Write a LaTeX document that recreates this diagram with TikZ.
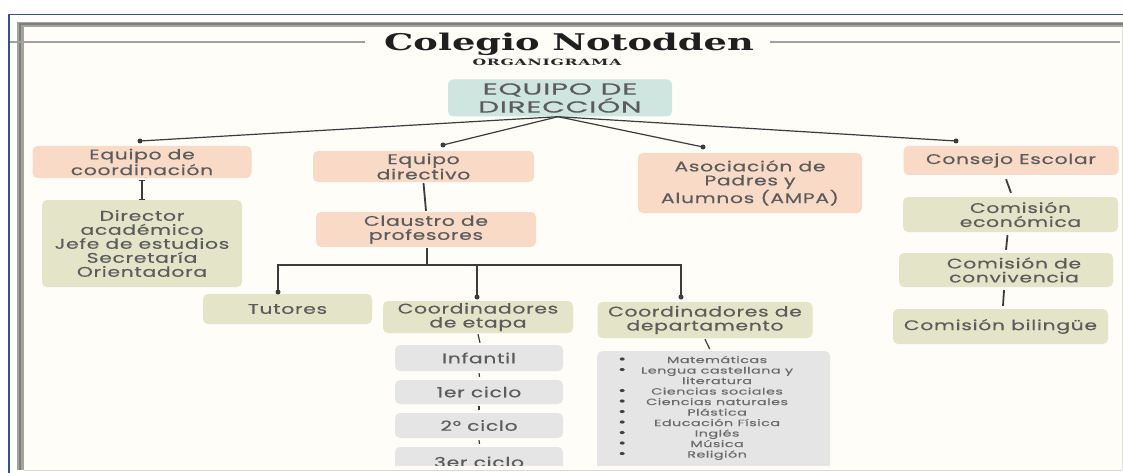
\documentclass[tikz,border=0pt]{standalone}
\usepackage{fontspec}
\usetikzlibrary{calc,arrows.meta}
\newfontfamily\boxfont[FakeStretch=1.45,LetterSpace=5,FakeBold=0.4]{Poppins}
\newfontfamily\dirfont[FakeStretch=1.85,LetterSpace=4,FakeBold=0.3]{Poppins}
\newfontfamily\listfont[FakeStretch=1.6,LetterSpace=5,FakeBold=0.3]{Poppins}
\newfontfamily\titlefont[FakeStretch=1.6]{DejaVu Serif}
\newfontfamily\subfont[FakeStretch=1.8,LetterSpace=8]{DejaVu Serif}
\definecolor{salmonc}{HTML}{F8DAC7}
\definecolor{greenc}{HTML}{E3E4C8}
\definecolor{tealc}{HTML}{CFE5DF}
\definecolor{grayc}{HTML}{E5E5E5}
\definecolor{creamc}{HTML}{FEFDF8}
\definecolor{boxtext}{HTML}{5C5C5C}
\definecolor{listtext}{HTML}{6A6A6A}
\definecolor{bulletc}{HTML}{404040}
\definecolor{linec}{HTML}{3C3C3C}
\definecolor{framblue}{HTML}{34508F}
\definecolor{bevelc}{HTML}{A3A39E}
\definecolor{bevdark}{HTML}{7E7E7A}
\definecolor{titleline}{HTML}{A0A0A0}
\newcommand{\blt}{{\color{bulletc}\fontsize{12}{10.5}\selectfont •}}
\tikzset{
  box/.style={rounded corners=5pt, inner sep=0pt, align=center, text=boxtext,
    font=\boxfont\fontsize{14}{14}\selectfont},
  sal/.style={box, fill=salmonc},
  grn/.style={box, fill=greenc},
  gry/.style={box, fill=grayc},
  tea/.style={box, fill=tealc},
  txt/.style={inner sep=0pt, align=center, text=boxtext,
    font=\boxfont\fontsize{14}{14}\selectfont},
  link/.style={draw=linec, line width=1.2pt},
  thicklink/.style={draw=linec, line width=1.8pt},
  dot/.style={circle, fill=linec, inner sep=0pt, minimum size=5pt},
}
\begin{document}
\begin{tikzpicture}[x=1pt,y=-1pt]
\useasboundingbox (0,0) rectangle (1123,473);
\fill[white] (0,0) rectangle (1123,473);
% frame
\fill[creamc] (24,27) rectangle (1122,470);
\fill[bevelc] (17,22) rectangle (1123,27.5);
\fill[bevelc] (17,22) rectangle (24,470);
\draw[bevdark, line width=2pt] (20,470) -- (20,24.5) -- (1123,24.5);
\draw[framblue, line width=1.8pt] (9,473) -- (9,14.5) -- (1123,14.5);
\draw[black!15, line width=0.8pt] (24,470.6) -- (1122,470.6);
\draw[black!12, line width=0.8pt] (1122,27) -- (1122,470);

% title
\node[font=\titlefont\bfseries\fontsize{23}{23}\selectfont, anchor=base, text=black!88] (title) at (569,50.5) {Colegio Notodden};
\node[font=\subfont\bfseries\fontsize{8.7}{9}\selectfont, anchor=base, text=black!85] (sub) at (547,65.5) {ORGANIGRAMA};
\draw[titleline, line width=1.2pt] (10,42) -- (365,42);
\draw[titleline, line width=1.2pt] (770,42) -- (1120,42);

\begin{scope}
\clip (24,27) rectangle (1122,465);
% top level
\node[tea, minimum width=224pt, minimum height=37pt, font=\dirfont\fontsize{16}{13.5}\selectfont] (dir) at (560,98) {EQUIPO DE\\DIRECCIÓN};
\node[sal, minimum width=219pt, minimum height=32pt] (coord) at (142,162) {Equipo de\\coordinación};
\node[sal, minimum width=221pt, minimum height=31pt] (directivo) at (423.5,166.5) {Equipo\\directivo};
\node[sal, minimum width=224pt, minimum height=60pt] (ampa) at (750,183) {Asociación de\\Padres y\\Alumnos (AMPA)};
\node[sal, minimum width=215pt, minimum height=29pt] (consejo) at (1011,160.5) {Consejo Escolar};

\node[dot] (d1) at (140,141) {};
\node[dot] (d2) at (443,145) {};
\node[dot] (d3) at (703,147) {};
\node[dot] (d4) at (956,141) {};
\draw[link] ($(dir.south)+(-2,0)$) -- (d1.center);
\draw[link] ($(dir.south)+(-2,0)$) -- (d2.center);
\draw[link] ($(dir.south)+(-2,0)$) -- (d3.center);
\draw[link] ($(dir.south)+(-2,0)$) -- (d4.center);

% left column
\node[grn, minimum width=200pt, minimum height=87pt] (director) at (142,243.5) {Director\\académico\\Jefe de estudios\\Secretaría\\Orientadora};
\draw[thicklink, {Bar[width=6pt,line width=1.2pt]}-{Bar[width=6pt,line width=1.2pt]}] ($(coord.south)+(0,2)$) -- (director.north);

% claustro
\node[sal, minimum width=220pt, minimum height=35pt] (claustro) at (426,229.5) {Claustro de\\profesores};
\draw[thicklink] ($(directivo.south)+(0,1)$) -- ($(claustro.north)+(0,-1)$);

\node[grn, minimum width=169pt, minimum height=30pt] (tutores) at (287.5,309) {Tutores};
\node[grn, minimum width=190pt, minimum height=32pt] (etapa) at (478,317) {Coordinadores\\de etapa};
\node[grn, minimum width=215pt, minimum height=36pt] (depto) at (705,320) {Coordinadores de\\departamento};

\coordinate (bar) at (427,265);
\node[dot] (p1) at (278,292) {};
\node[dot] (p2) at (477,297) {};
\node[dot] (p3) at (681,297) {};
\draw[thicklink] ($(claustro.south)+(1,1)$) -- (bar);
\draw[thicklink] (p1.center) |- (bar -| p3) -- (p3.center);
\draw[thicklink] (bar -| p2) -- (p2.center);

% etapa chain
\node[gry, minimum width=168pt, minimum height=26pt] (inf) at (479,358) {Infantil};
\node[gry, minimum width=168pt, minimum height=24pt] (c1) at (479,392) {1er ciclo};
\node[gry, minimum width=168pt, minimum height=25pt] (c2) at (479,425.5) {2° ciclo};
\node[gry, minimum width=168pt, minimum height=30pt] (c3) at (479,462) {3er ciclo};
\draw[link] ($(etapa.south)+(0,1)$) -- ($(inf.north)+(1,-2)$);
\draw[link] ($(inf.south)+(0,2)$) -- ($(c1.north)+(0.5,-3)$);
\draw[link] ($(c1.south)+(0,2)$) -- ($(c2.north)+(0,-3)$);
\draw[link] ($(c2.south)+(0,2)$) -- ($(c3.north)+(0.5,-3)$);

% departamento list
\node[gry, minimum width=233pt, minimum height=130pt, anchor=north west] (list) at (597,351) {};
\draw[link] ($(depto.south)+(0,1)$) -- ($(list.north)+(-4,-2)$);
\node[anchor=north west, inner sep=0pt, text=listtext, font=\listfont\fontsize{9}{10.5}\selectfont] (items) at (618,355.5) {%
\begin{tabular}{@{}l@{\hspace{15pt}}c@{}}
\blt& Matemáticas\\
\blt& Lengua castellana y\\
 & literatura\\
\blt& Ciencias sociales\\
\blt& Ciencias naturales\\
\blt& Plástica\\
\blt& Educación Física\\
\blt& Inglés\\
\blt& Música\\
\blt& Religión
\end{tabular}};

% consejo chain
\node[grn, minimum width=215pt, minimum height=35pt] (econ) at (1010.5,214.5) {};
\node[txt] (econt) at ($(econ)+(10,0)$) {Comisión\\económica};
\node[grn, minimum width=214pt, minimum height=34pt] (conv) at (1006,270) {};
\node[txt] (convt) at ($(conv)+(8,0)$) {Comisión de\\convivencia};
\node[grn, minimum width=215pt, minimum height=35pt] (biling) at (1000.5,326.5) {Comisión bilingüe};
\draw[thicklink] ($(consejo.south)+(-5,4)$) -- ($(econ.north)+(0.5,-4)$);
\draw[thicklink] ($(econ.south)+(-3,3)$) -- ($(conv.north)+(0,-3)$);
\draw[thicklink] ($(conv.south)+(-2,3)$) -- ($(biling.north)+(2.5,-3)$);
\end{scope}
\end{tikzpicture}
\end{document}
